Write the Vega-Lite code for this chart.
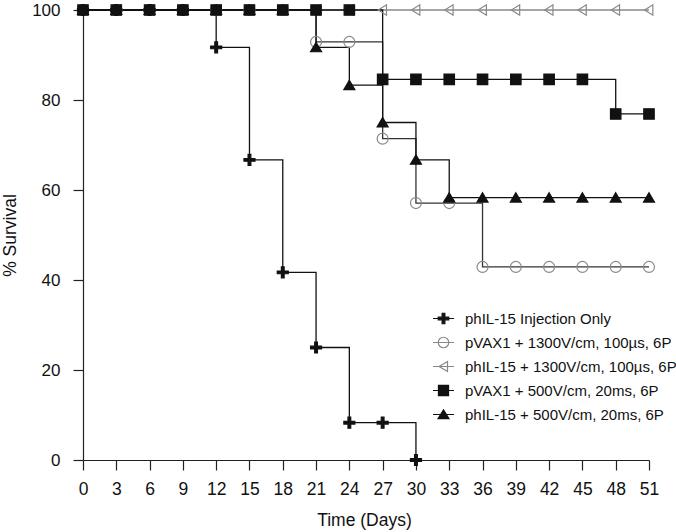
{
  "$schema": "https://vega.github.io/schema/vega-lite/v6.json",
  "autosize": "none",
  "width": 566,
  "height": 450,
  "padding": {"left": 83, "top": 10, "right": 27, "bottom": 72},
  "background": "white",
  "config": {
    "view": {"stroke": null},
    "font": "Liberation Sans",
    "axis": {"grid": false, "domainColor": "#222", "tickColor": "#222", "domainWidth": 1.2, "tickWidth": 1.2, "labelColor": "#111", "titleColor": "#111", "labelFont": "Liberation Sans", "titleFont": "Liberation Sans", "titleFontWeight": "normal", "labelFontSize": 17.5, "titleFontSize": 17.5},
    "legend": {"orient": "none", "legendX": 349, "legendY": 297, "title": null, "padding": 0, "symbolSize": 441, "symbolStrokeWidth": 1.2, "symbolOpacity": 1, "labelFontSize": 15, "labelFont": "Liberation Sans", "labelColor": "#111", "labelOffset": 10, "rowPadding": 4, "labelLimit": 300}
  },
  "data": {"values": [
    {"series": "phIL-15 + 1300V/cm, 100µs, 6P", "day": 0, "surv": 100},
    {"series": "phIL-15 + 1300V/cm, 100µs, 6P", "day": 3, "surv": 100},
    {"series": "phIL-15 + 1300V/cm, 100µs, 6P", "day": 6, "surv": 100},
    {"series": "phIL-15 + 1300V/cm, 100µs, 6P", "day": 9, "surv": 100},
    {"series": "phIL-15 + 1300V/cm, 100µs, 6P", "day": 12, "surv": 100},
    {"series": "phIL-15 + 1300V/cm, 100µs, 6P", "day": 15, "surv": 100},
    {"series": "phIL-15 + 1300V/cm, 100µs, 6P", "day": 18, "surv": 100},
    {"series": "phIL-15 + 1300V/cm, 100µs, 6P", "day": 21, "surv": 100},
    {"series": "phIL-15 + 1300V/cm, 100µs, 6P", "day": 24, "surv": 100},
    {"series": "phIL-15 + 1300V/cm, 100µs, 6P", "day": 27, "surv": 100},
    {"series": "phIL-15 + 1300V/cm, 100µs, 6P", "day": 30, "surv": 100},
    {"series": "phIL-15 + 1300V/cm, 100µs, 6P", "day": 33, "surv": 100},
    {"series": "phIL-15 + 1300V/cm, 100µs, 6P", "day": 36, "surv": 100},
    {"series": "phIL-15 + 1300V/cm, 100µs, 6P", "day": 39, "surv": 100},
    {"series": "phIL-15 + 1300V/cm, 100µs, 6P", "day": 42, "surv": 100},
    {"series": "phIL-15 + 1300V/cm, 100µs, 6P", "day": 45, "surv": 100},
    {"series": "phIL-15 + 1300V/cm, 100µs, 6P", "day": 48, "surv": 100},
    {"series": "phIL-15 + 1300V/cm, 100µs, 6P", "day": 51, "surv": 100},
    {"series": "pVAX1 + 1300V/cm, 100µs, 6P", "day": 0, "surv": 100},
    {"series": "pVAX1 + 1300V/cm, 100µs, 6P", "day": 3, "surv": 100},
    {"series": "pVAX1 + 1300V/cm, 100µs, 6P", "day": 6, "surv": 100},
    {"series": "pVAX1 + 1300V/cm, 100µs, 6P", "day": 9, "surv": 100},
    {"series": "pVAX1 + 1300V/cm, 100µs, 6P", "day": 12, "surv": 100},
    {"series": "pVAX1 + 1300V/cm, 100µs, 6P", "day": 15, "surv": 100},
    {"series": "pVAX1 + 1300V/cm, 100µs, 6P", "day": 18, "surv": 100},
    {"series": "pVAX1 + 1300V/cm, 100µs, 6P", "day": 21, "surv": 92.9},
    {"series": "pVAX1 + 1300V/cm, 100µs, 6P", "day": 24, "surv": 92.9},
    {"series": "pVAX1 + 1300V/cm, 100µs, 6P", "day": 27, "surv": 71.4},
    {"series": "pVAX1 + 1300V/cm, 100µs, 6P", "day": 30, "surv": 57.1},
    {"series": "pVAX1 + 1300V/cm, 100µs, 6P", "day": 33, "surv": 57.1},
    {"series": "pVAX1 + 1300V/cm, 100µs, 6P", "day": 36, "surv": 42.9},
    {"series": "pVAX1 + 1300V/cm, 100µs, 6P", "day": 39, "surv": 42.9},
    {"series": "pVAX1 + 1300V/cm, 100µs, 6P", "day": 42, "surv": 42.9},
    {"series": "pVAX1 + 1300V/cm, 100µs, 6P", "day": 45, "surv": 42.9},
    {"series": "pVAX1 + 1300V/cm, 100µs, 6P", "day": 48, "surv": 42.9},
    {"series": "pVAX1 + 1300V/cm, 100µs, 6P", "day": 51, "surv": 42.9},
    {"series": "phIL-15 Injection Only", "day": 0, "surv": 100},
    {"series": "phIL-15 Injection Only", "day": 3, "surv": 100},
    {"series": "phIL-15 Injection Only", "day": 6, "surv": 100},
    {"series": "phIL-15 Injection Only", "day": 9, "surv": 100},
    {"series": "phIL-15 Injection Only", "day": 12, "surv": 91.7},
    {"series": "phIL-15 Injection Only", "day": 15, "surv": 66.7},
    {"series": "phIL-15 Injection Only", "day": 18, "surv": 41.7},
    {"series": "phIL-15 Injection Only", "day": 21, "surv": 25},
    {"series": "phIL-15 Injection Only", "day": 24, "surv": 8.3},
    {"series": "phIL-15 Injection Only", "day": 27, "surv": 8.3},
    {"series": "phIL-15 Injection Only", "day": 30, "surv": 0},
    {"series": "phIL-15 + 500V/cm, 20ms, 6P", "day": 0, "surv": 100},
    {"series": "phIL-15 + 500V/cm, 20ms, 6P", "day": 3, "surv": 100},
    {"series": "phIL-15 + 500V/cm, 20ms, 6P", "day": 6, "surv": 100},
    {"series": "phIL-15 + 500V/cm, 20ms, 6P", "day": 9, "surv": 100},
    {"series": "phIL-15 + 500V/cm, 20ms, 6P", "day": 12, "surv": 100},
    {"series": "phIL-15 + 500V/cm, 20ms, 6P", "day": 15, "surv": 100},
    {"series": "phIL-15 + 500V/cm, 20ms, 6P", "day": 18, "surv": 100},
    {"series": "phIL-15 + 500V/cm, 20ms, 6P", "day": 21, "surv": 91.7},
    {"series": "phIL-15 + 500V/cm, 20ms, 6P", "day": 24, "surv": 83.3},
    {"series": "phIL-15 + 500V/cm, 20ms, 6P", "day": 27, "surv": 75},
    {"series": "phIL-15 + 500V/cm, 20ms, 6P", "day": 30, "surv": 66.7},
    {"series": "phIL-15 + 500V/cm, 20ms, 6P", "day": 33, "surv": 58.3},
    {"series": "phIL-15 + 500V/cm, 20ms, 6P", "day": 36, "surv": 58.3},
    {"series": "phIL-15 + 500V/cm, 20ms, 6P", "day": 39, "surv": 58.3},
    {"series": "phIL-15 + 500V/cm, 20ms, 6P", "day": 42, "surv": 58.3},
    {"series": "phIL-15 + 500V/cm, 20ms, 6P", "day": 45, "surv": 58.3},
    {"series": "phIL-15 + 500V/cm, 20ms, 6P", "day": 48, "surv": 58.3},
    {"series": "phIL-15 + 500V/cm, 20ms, 6P", "day": 51, "surv": 58.3},
    {"series": "pVAX1 + 500V/cm, 20ms, 6P", "day": 0, "surv": 100},
    {"series": "pVAX1 + 500V/cm, 20ms, 6P", "day": 3, "surv": 100},
    {"series": "pVAX1 + 500V/cm, 20ms, 6P", "day": 6, "surv": 100},
    {"series": "pVAX1 + 500V/cm, 20ms, 6P", "day": 9, "surv": 100},
    {"series": "pVAX1 + 500V/cm, 20ms, 6P", "day": 12, "surv": 100},
    {"series": "pVAX1 + 500V/cm, 20ms, 6P", "day": 15, "surv": 100},
    {"series": "pVAX1 + 500V/cm, 20ms, 6P", "day": 18, "surv": 100},
    {"series": "pVAX1 + 500V/cm, 20ms, 6P", "day": 21, "surv": 100},
    {"series": "pVAX1 + 500V/cm, 20ms, 6P", "day": 24, "surv": 100},
    {"series": "pVAX1 + 500V/cm, 20ms, 6P", "day": 27, "surv": 84.6},
    {"series": "pVAX1 + 500V/cm, 20ms, 6P", "day": 30, "surv": 84.6},
    {"series": "pVAX1 + 500V/cm, 20ms, 6P", "day": 33, "surv": 84.6},
    {"series": "pVAX1 + 500V/cm, 20ms, 6P", "day": 36, "surv": 84.6},
    {"series": "pVAX1 + 500V/cm, 20ms, 6P", "day": 39, "surv": 84.6},
    {"series": "pVAX1 + 500V/cm, 20ms, 6P", "day": 42, "surv": 84.6},
    {"series": "pVAX1 + 500V/cm, 20ms, 6P", "day": 45, "surv": 84.6},
    {"series": "pVAX1 + 500V/cm, 20ms, 6P", "day": 48, "surv": 76.9},
    {"series": "pVAX1 + 500V/cm, 20ms, 6P", "day": 51, "surv": 76.9}
  ]},
  "encoding": {
    "x": {"field": "day", "type": "quantitative",
      "scale": {"domain": [0, 51], "nice": false, "zero": false},
      "axis": {"values": [0,3,6,9,12,15,18,21,24,27,30,33,36,39,42,45,48,51], "tickSize": 10, "labelPadding": 10, "labelFlush": false, "labelOverlap": false, "title": "Time (Days)", "titleX": 281, "titleY": 65, "titleBaseline": "alphabetic", "titleAlign": "center"}},
    "y": {"field": "surv", "type": "quantitative",
      "scale": {"domain": [0, 100], "nice": false},
      "axis": {"values": [0,20,40,60,80,100], "tickSize": 10, "labelPadding": 13, "labelFontSize": 17, "labelFlush": false, "title": "% Survival", "titleX": -73, "titleY": 225, "titleBaseline": "middle", "titleAlign": "center", "titleAngle": -90}}
  },
  "layer": [
    {
      "mark": {"type": "line", "interpolate": "step-after", "strokeWidth": 1.3, "clip": false},
      "encoding": {
        "detail": {"field": "series"},
        "color": {"field": "series", "type": "nominal", "legend": null,
          "scale": {"domain": ["phIL-15 + 1300V/cm, 100µs, 6P", "pVAX1 + 1300V/cm, 100µs, 6P", "phIL-15 Injection Only", "phIL-15 + 500V/cm, 20ms, 6P", "pVAX1 + 500V/cm, 20ms, 6P"],
            "range": ["#888", "#333", "#111", "#111", "#111"]}}
      }
    },
    {
      "mark": {"type": "point", "size": 121, "strokeWidth": 1.2, "opacity": 1, "clip": false},
      "encoding": {
        "shape": {"field": "series", "type": "nominal", "legend": null,
          "scale": {"domain": ["phIL-15 + 1300V/cm, 100µs, 6P", "pVAX1 + 1300V/cm, 100µs, 6P", "phIL-15 Injection Only", "phIL-15 + 500V/cm, 20ms, 6P", "pVAX1 + 500V/cm, 20ms, 6P"],
            "range": [
              "M-0.8,0L0.7,-0.95L0.7,0.95Z",
              "M-1,0A1,1,0,1,1,1,0A1,1,0,1,1,-1,0Z",
              "M-1,-0.25H-0.25V-1H0.25V-0.25H1V0.25H0.25V1H-0.25V0.25H-1Z",
              "M0,-0.9L1,0.8L-1,0.8Z",
              "M-0.95,-0.95H0.95V0.95H-0.95Z"
            ]}},
        "fill": {"field": "series", "type": "nominal", "legend": null,
          "scale": {"domain": ["phIL-15 + 1300V/cm, 100µs, 6P", "pVAX1 + 1300V/cm, 100µs, 6P", "phIL-15 Injection Only", "phIL-15 + 500V/cm, 20ms, 6P", "pVAX1 + 500V/cm, 20ms, 6P"],
            "range": ["transparent", "transparent", "#111", "#111", "#111"]}},
        "stroke": {"field": "series", "type": "nominal", "legend": null,
          "scale": {"domain": ["phIL-15 + 1300V/cm, 100µs, 6P", "pVAX1 + 1300V/cm, 100µs, 6P", "phIL-15 Injection Only", "phIL-15 + 500V/cm, 20ms, 6P", "pVAX1 + 500V/cm, 20ms, 6P"],
            "range": ["#888", "#888", "#111", "#111", "#111"]}}
      }
    },
    {
      "mark": {"type": "point", "size": 441, "strokeWidth": 1.2, "opacity": 0, "clip": false},
      "encoding": {
        "shape": {"field": "series", "type": "nominal",
          "scale": {"domain": ["phIL-15 Injection Only", "pVAX1 + 1300V/cm, 100µs, 6P", "phIL-15 + 1300V/cm, 100µs, 6P", "pVAX1 + 500V/cm, 20ms, 6P", "phIL-15 + 500V/cm, 20ms, 6P"],
            "range": [
              "M-1,0H1M-0.5,-0.13H-0.13V-0.5H0.13V-0.13H0.5V0.13H0.13V0.5H-0.13V0.13H-0.5Z",
              "M-1,0H1M-0.5,0A0.5,0.5,0,1,1,0.5,0A0.5,0.5,0,1,1,-0.5,0Z",
              "M-1,0H1M-0.42,0L0.38,-0.48L0.38,0.48Z",
              "M-1,0H1M-0.48,-0.48H0.48V0.48H-0.48Z",
              "M-1,0H1M0,-0.45L0.52,0.4L-0.52,0.4Z"
            ]}},
        "fill": {"field": "series", "type": "nominal",
          "scale": {"domain": ["phIL-15 Injection Only", "pVAX1 + 1300V/cm, 100µs, 6P", "phIL-15 + 1300V/cm, 100µs, 6P", "pVAX1 + 500V/cm, 20ms, 6P", "phIL-15 + 500V/cm, 20ms, 6P"],
            "range": ["#111", "transparent", "transparent", "#111", "#111"]}},
        "stroke": {"field": "series", "type": "nominal",
          "scale": {"domain": ["phIL-15 Injection Only", "pVAX1 + 1300V/cm, 100µs, 6P", "phIL-15 + 1300V/cm, 100µs, 6P", "pVAX1 + 500V/cm, 20ms, 6P", "phIL-15 + 500V/cm, 20ms, 6P"],
            "range": ["#111", "#888", "#888", "#111", "#111"]}}
      }
    }
  ],
  "resolve": {"scale": {"shape": "independent", "fill": "independent", "stroke": "independent"}}
}
